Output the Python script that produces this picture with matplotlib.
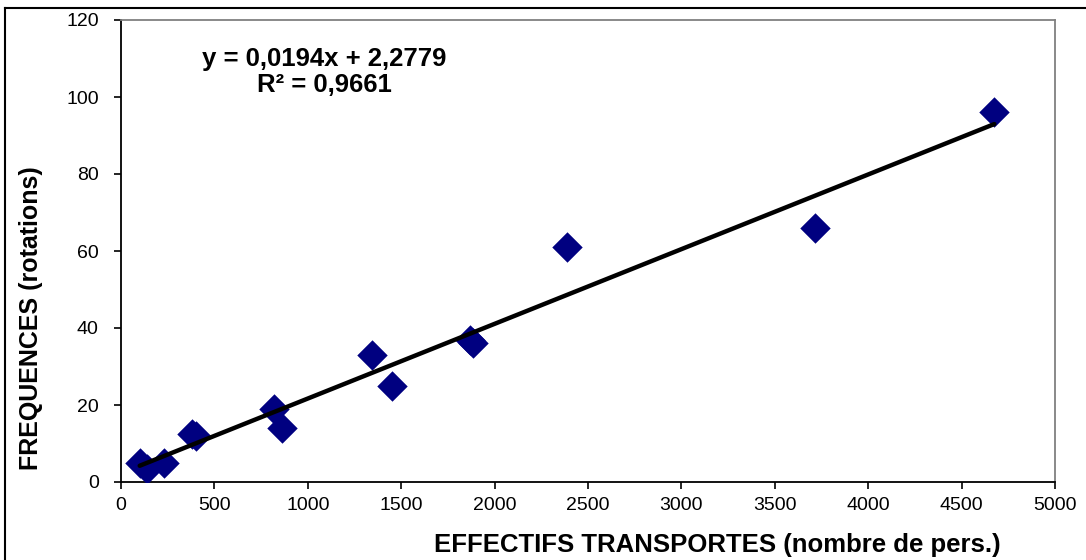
import matplotlib
matplotlib.use("Agg")
import matplotlib.pyplot as plt
import numpy as np
from matplotlib.lines import Line2D

plt.rcParams['font.family'] = ['Liberation Sans', 'DejaVu Sans']

effectifs = [100, 140, 230, 380, 400, 820, 860, 1345, 1450, 1870, 1885, 2390, 3715, 4675]
frequences = [5, 3.5, 5, 12.5, 12, 19, 14, 33, 25, 37, 36, 61, 66, 96]
slope = 0.0194
intercept = 2.2779
r2 = 0.9661
x_ticks = [0, 500, 1000, 1500, 2000, 2500, 3000, 3500, 4000, 4500, 5000]
y_ticks = [0, 20, 40, 60, 80, 100, 120]

fig = plt.figure(figsize=(10.86, 5.60), dpi=100)
ax = fig.add_axes([121/1086, 1-482/560, (1055-121)/1086, (482-20)/560])

ax.scatter(effectifs, frequences, marker='D', s=240, color='#000080', zorder=3, linewidths=0)
xs = np.array([min(effectifs), max(effectifs)])
ax.plot(xs, slope*xs + intercept, color='black', lw=3.2, zorder=4, solid_capstyle='round')

ax.set_xlim(0, 5000)
ax.set_ylim(0, 120)
ax.set_xticks(x_ticks)
ax.set_yticks(y_ticks)
ax.tick_params(axis='both', direction='out', length=5, width=1.2, labelsize=14, colors='black')
ax.tick_params(axis='x', pad=6)
ax.tick_params(axis='y', pad=11)
for s in ['left', 'bottom']:
    ax.spines[s].set_color('black')
    ax.spines[s].set_linewidth(1.3)
for s in ['top', 'right']:
    ax.spines[s].set_color('#808080')
    ax.spines[s].set_linewidth(1.3)

eq = "y = 0,0194x + 2,2779\nR² = 0,9661"
ax.text(1090, 106.5, eq, ha='center', va='center', fontsize=18.5, fontweight='bold', linespacing=1.15)

fig.text(31/1086, 1-318/560, "FREQUENCES (rotations)", rotation=90, ha='center', va='center',
         fontsize=18, fontweight='bold')
fig.text(717/1086, 1-545/560, "EFFECTIFS TRANSPORTES (nombre de pers.)", ha='center', va='center',
         fontsize=18.5, fontweight='bold')

fig.add_artist(Line2D([5/1086, 1.0], [1-8/560, 1-8/560], transform=fig.transFigure, color='black', lw=1.5))
fig.add_artist(Line2D([5/1086, 5/1086], [0, 1-8/560], transform=fig.transFigure, color='black', lw=1.5))

fig.savefig("out.png", dpi=100)
